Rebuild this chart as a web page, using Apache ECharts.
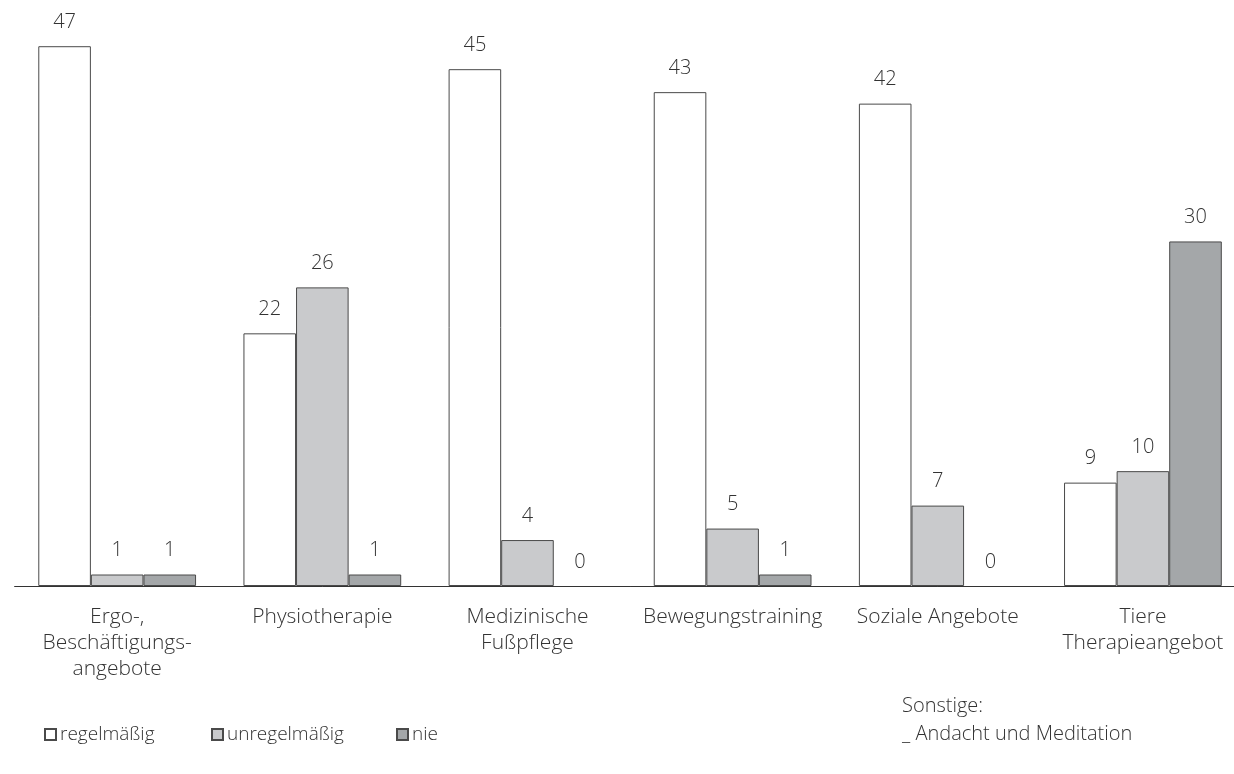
<!DOCTYPE html>
<html>
<head>
<meta charset="utf-8">
<script src="https://cdn.jsdelivr.net/npm/echarts@6/dist/echarts.min.js"></script>
<style>
  html, body { margin: 0; padding: 0; background: #fff; overflow: hidden; }
  /* the plot runs a little past the right edge of the window */
  #chart { width: 1246px; height: 774px; }
</style>
</head>
<body>
<div id="chart"></div>
<script>
// Therapie- und Beschäftigungsangebote: Anzahl Einrichtungen je Häufigkeit
const categories = [
  'Ergo-,\nBeschäftigungs-\nangebote',
  'Physiotherapie',
  'Medizinische\nFußpflege',
  'Bewegungstraining',
  'Soziale Angebote',
  'Tiere\nTherapieangebot'
];
const regelmaessig = [47, 22, 45, 43, 42, 9];
const unregelmaessig = [1, 26, 4, 5, 7, 10];
const nie = [1, 1, 0, 1, 0, 30];
const seriesNames = ['regelmäßig', 'unregelmäßig', 'nie'];
const seriesColors = ['#ffffff', '#c9cacc', '#a4a7a9'];
const noteLines = ['Sonstige:', '_ Andacht und Meditation'];

const FONT = '"Open Sans", sans-serif';
const TEXT = '#333333';

const chart = echarts.init(document.getElementById('chart'), null, { renderer: 'canvas' });

// zero values keep their label but get no outline
function withOutline(values) {
  return values.map(v => v === 0
    ? { value: v, itemStyle: { borderWidth: 0 } }
    : v);
}

function barSeries(name, data, color) {
  return {
    name: name,
    type: 'bar',
    data: withOutline(data),
    barGap: 0,
    barCategoryGap: '23.1%',
    itemStyle: { color: color, borderColor: '#4a4a4a', borderWidth: 1 },
    label: {
      show: true,
      position: 'top',
      distance: 14,
      color: TEXT,
      fontFamily: FONT,
      fontWeight: 300,
      fontSize: 20
    },
    emphasis: { disabled: true }
  };
}

const legendLefts = [44, 211, 396];

chart.setOption({
  animation: false,
  backgroundColor: '#ffffff',
  textStyle: { fontFamily: FONT },
  grid: { left: 14.6, right: 0.5, top: 11.75, bottom: 188 },
  legend: seriesNames.map((n, i) => ({
    data: [n],
    left: legendLefts[i],
    top: 725,
    icon: 'rect',
    itemWidth: 11,
    itemHeight: 11,
    itemGap: 0,
    padding: 0,
    selectedMode: false,
    textStyle: { color: TEXT, fontFamily: FONT, fontWeight: 300, fontSize: 19, padding: [0, 0, 0, -1] }
  })),
  xAxis: {
    type: 'category',
    data: categories,
    axisLine: { show: true, lineStyle: { color: '#333333', width: 1 } },
    axisTick: { show: false },
    axisLabel: {
      interval: 0,
      margin: 18,
      color: TEXT,
      fontFamily: FONT,
      fontWeight: 300,
      fontSize: 21,
      lineHeight: 26
    }
  },
  yAxis: {
    type: 'value',
    min: 0,
    max: 50,
    show: false,
    splitLine: { show: false }
  },
  series: [
    barSeries(seriesNames[0], regelmaessig, seriesColors[0]),
    barSeries(seriesNames[1], unregelmaessig, seriesColors[1]),
    barSeries(seriesNames[2], nie, seriesColors[2])
  ],
  graphic: noteLines.map((t, i) => ({
    type: 'text',
    left: 902,
    top: 696 + i * 28,
    style: { text: t, fill: TEXT, font: '300 20px ' + FONT }
  }))
});
</script>
</body>
</html>
